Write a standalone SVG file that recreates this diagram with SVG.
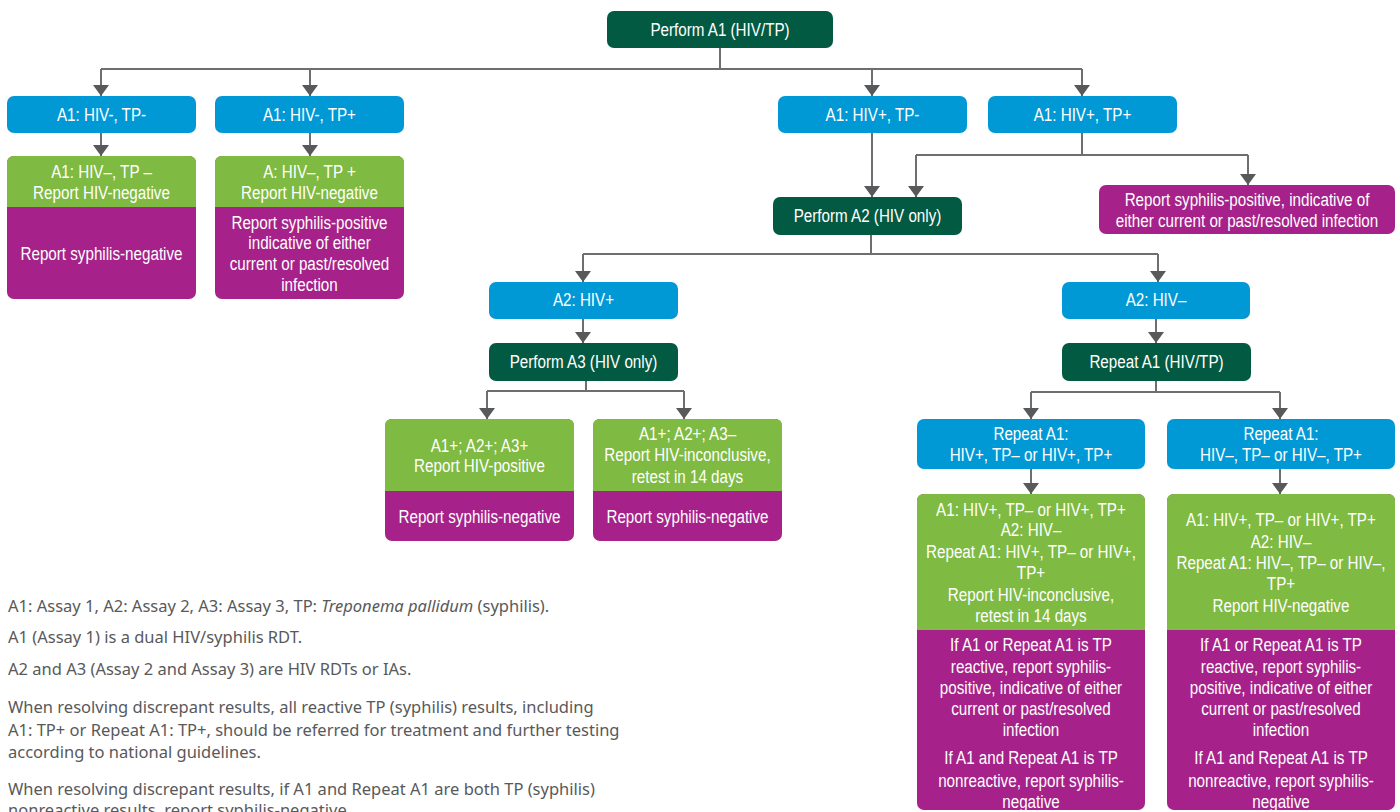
<svg xmlns="http://www.w3.org/2000/svg" width="1400" height="812" viewBox="0 0 1400 812">
<style>
.t{font-family:"Liberation Sans",Arial,sans-serif;font-size:19px;fill:#ffffff;text-anchor:middle;transform-box:fill-box;transform-origin:center;transform:scaleX(0.8)}
.dk{fill:#035a43}
.bl{fill:#0099d6}
.gr{fill:#7fba42}
.pu{fill:#a62189}
.c{fill:none;stroke:#6d6e70;stroke-width:2}
.f{font-family:"Noto Sans","Open Sans",sans-serif;font-size:16.5px;fill:#58595b}
</style>
<defs>
<marker id="ah" markerUnits="userSpaceOnUse" viewBox="0 -8 11 16" refX="11" refY="0" markerWidth="11" markerHeight="16" orient="auto">
<path d="M0,-8 L11,0 L0,8 Z" fill="#58595b"/>
</marker>
</defs>
<rect width="1400" height="812" fill="#ffffff"/>

<g id="connectors">
<path class="c" d="M720,48 V69"/>
<path class="c" d="M101,69 H1082"/>
<path class="c" d="M101,69 V96" marker-end="url(#ah)"/>
<path class="c" d="M310,69 V96" marker-end="url(#ah)"/>
<path class="c" d="M872,69 V96" marker-end="url(#ah)"/>
<path class="c" d="M1082,69 V96" marker-end="url(#ah)"/>
<path class="c" d="M101,133 V156" marker-end="url(#ah)"/>
<path class="c" d="M310,133 V156" marker-end="url(#ah)"/>
<path class="c" d="M872,133 V197" marker-end="url(#ah)"/>
<path class="c" d="M1082,133 V155"/>
<path class="c" d="M916,155 H1248"/>
<path class="c" d="M916,155 V197" marker-end="url(#ah)"/>
<path class="c" d="M1248,155 V185" marker-end="url(#ah)"/>
<path class="c" d="M871,235 V254"/>
<path class="c" d="M583,254 H1158"/>
<path class="c" d="M583,254 V282" marker-end="url(#ah)"/>
<path class="c" d="M1158,254 V282" marker-end="url(#ah)"/>
<path class="c" d="M583,319 V343" marker-end="url(#ah)"/>
<path class="c" d="M1156,319 V343" marker-end="url(#ah)"/>
<path class="c" d="M586,381 V391"/>
<path class="c" d="M487,391 H684"/>
<path class="c" d="M487,391 V419" marker-end="url(#ah)"/>
<path class="c" d="M684,391 V419" marker-end="url(#ah)"/>
<path class="c" d="M1156,381 V392"/>
<path class="c" d="M1031,392 H1280"/>
<path class="c" d="M1031,392 V419" marker-end="url(#ah)"/>
<path class="c" d="M1280,392 V419" marker-end="url(#ah)"/>
<path class="c" d="M1031,469 V494" marker-end="url(#ah)"/>
<path class="c" d="M1280,469 V494" marker-end="url(#ah)"/>
</g>

<g id="perform-a1">
<rect class="dk" x="607" y="11" width="226" height="37" rx="7"/>
<text class="t" x="720" y="36">Perform A1 (HIV/TP)</text>
</g>

<g id="a1-hivneg-tpneg">
<rect class="bl" x="7" y="96" width="189" height="37" rx="7"/>
<text class="t" x="101.5" y="121">A1: HIV-, TP-</text>
</g>
<g id="a1-hivneg-tppos">
<rect class="bl" x="215" y="96" width="189" height="37" rx="7"/>
<text class="t" x="309.5" y="121">A1: HIV-, TP+</text>
</g>
<g id="a1-hivpos-tpneg">
<rect class="bl" x="778" y="96" width="189" height="37" rx="7"/>
<text class="t" x="872.5" y="121">A1: HIV+, TP-</text>
</g>
<g id="a1-hivpos-tppos">
<rect class="bl" x="988" y="96" width="189" height="37" rx="7"/>
<text class="t" x="1082.5" y="121">A1: HIV+, TP+</text>
</g>

<g id="result-1">
<rect class="pu" x="7" y="156" width="189" height="143" rx="7"/>
<path class="gr" d="M7,207 V163 Q7,156 14,156 H189 Q196,156 196,163 V207 Z"/>
<text class="t" x="101.5" y="178">A1: HIV–, TP –</text>
<text class="t" x="101.5" y="199">Report HIV-negative</text>
<text class="t" x="101.5" y="260">Report syphilis-negative</text>
</g>
<g id="result-2">
<rect class="pu" x="215" y="156" width="189" height="143" rx="7"/>
<path class="gr" d="M215,207 V163 Q215,156 222,156 H397 Q404,156 404,163 V207 Z"/>
<text class="t" x="309.5" y="178">A: HIV–, TP +</text>
<text class="t" x="309.5" y="199">Report HIV-negative</text>
<text class="t" x="309.5" y="229">Report syphilis-positive</text>
<text class="t" x="309.5" y="249">indicative of either</text>
<text class="t" x="309.5" y="270">current or past/resolved</text>
<text class="t" x="309.5" y="291">infection</text>
</g>

<g id="perform-a2">
<rect class="dk" x="773" y="197" width="189" height="38" rx="7"/>
<text class="t" x="867.5" y="222">Perform A2 (HIV only)</text>
</g>

<g id="report-syphilis-positive">
<rect class="pu" x="1099" y="185" width="296" height="49" rx="7"/>
<text class="t" x="1247" y="206">Report syphilis-positive, indicative of</text>
<text class="t" x="1247" y="227">either current or past/resolved infection</text>
</g>

<g id="a2-hivpos">
<rect class="bl" x="489" y="282" width="189" height="37" rx="7"/>
<text class="t" x="583.5" y="306">A2: HIV+</text>
</g>
<g id="a2-hivneg">
<rect class="bl" x="1062" y="282" width="188" height="37" rx="7"/>
<text class="t" x="1156" y="306">A2: HIV–</text>
</g>

<g id="perform-a3">
<rect class="dk" x="489" y="343" width="189" height="38" rx="7"/>
<text class="t" x="583.5" y="368">Perform A3 (HIV only)</text>
</g>
<g id="repeat-a1">
<rect class="dk" x="1062" y="343" width="189" height="38" rx="7"/>
<text class="t" x="1156.5" y="368">Repeat A1 (HIV/TP)</text>
</g>

<g id="result-3">
<rect class="pu" x="385" y="419" width="189" height="122" rx="7"/>
<path class="gr" d="M385,491 V426 Q385,419 392,419 H567 Q574,419 574,426 V491 Z"/>
<text class="t" x="479.5" y="452">A1+; A2+; A3+</text>
<text class="t" x="479.5" y="472">Report HIV-positive</text>
<text class="t" x="479.5" y="523">Report syphilis-negative</text>
</g>
<g id="result-4">
<rect class="pu" x="593" y="419" width="189" height="122" rx="7"/>
<path class="gr" d="M593,491 V426 Q593,419 600,419 H775 Q782,419 782,426 V491 Z"/>
<text class="t" x="687.5" y="440">A1+; A2+; A3–</text>
<text class="t" x="687.5" y="461">Report HIV-inconclusive,</text>
<text class="t" x="687.5" y="483">retest in 14 days</text>
<text class="t" x="687.5" y="523">Report syphilis-negative</text>
</g>

<g id="repeat-a1-hivpos">
<rect class="bl" x="917" y="419" width="228" height="50" rx="7"/>
<text class="t" x="1031" y="440">Repeat A1:</text>
<text class="t" x="1031" y="461">HIV+, TP– or HIV+, TP+</text>
</g>
<g id="repeat-a1-hivneg">
<rect class="bl" x="1167" y="419" width="228" height="50" rx="7"/>
<text class="t" x="1281" y="440">Repeat A1:</text>
<text class="t" x="1281" y="461">HIV–, TP– or HIV–, TP+</text>
</g>

<g id="result-5">
<rect class="pu" x="917" y="494" width="228" height="316" rx="7"/>
<path class="gr" d="M917,630 V501 Q917,494 924,494 H1138 Q1145,494 1145,501 V630 Z"/>
<text class="t" x="1031" y="516">A1: HIV+, TP– or HIV+, TP+</text>
<text class="t" x="1031" y="536">A2: HIV–</text>
<text class="t" x="1031" y="558">Repeat A1: HIV+, TP– or HIV+,</text>
<text class="t" x="1031" y="579">TP+</text>
<text class="t" x="1031" y="601">Report HIV-inconclusive,</text>
<text class="t" x="1031" y="622">retest in 14 days</text>
<text class="t" x="1031" y="651">If A1 or Repeat A1 is TP</text>
<text class="t" x="1031" y="673">reactive, report syphilis-</text>
<text class="t" x="1031" y="694">positive, indicative of either</text>
<text class="t" x="1031" y="715">current or past/resolved</text>
<text class="t" x="1031" y="736">infection</text>
<text class="t" x="1031" y="764">If A1 and Repeat A1 is TP</text>
<text class="t" x="1031" y="787">nonreactive, report syphilis-</text>
<text class="t" x="1031" y="808">negative</text>
</g>
<g id="result-6">
<rect class="pu" x="1167" y="494" width="228" height="316" rx="7"/>
<path class="gr" d="M1167,630 V501 Q1167,494 1174,494 H1388 Q1395,494 1395,501 V630 Z"/>
<text class="t" x="1281" y="526">A1: HIV+, TP– or HIV+, TP+</text>
<text class="t" x="1281" y="548">A2: HIV–</text>
<text class="t" x="1281" y="569">Repeat A1: HIV–, TP– or HIV–,</text>
<text class="t" x="1281" y="590">TP+</text>
<text class="t" x="1281" y="612">Report HIV-negative</text>
<text class="t" x="1281" y="651">If A1 or Repeat A1 is TP</text>
<text class="t" x="1281" y="673">reactive, report syphilis-</text>
<text class="t" x="1281" y="694">positive, indicative of either</text>
<text class="t" x="1281" y="715">current or past/resolved</text>
<text class="t" x="1281" y="736">infection</text>
<text class="t" x="1281" y="764">If A1 and Repeat A1 is TP</text>
<text class="t" x="1281" y="787">nonreactive, report syphilis-</text>
<text class="t" x="1281" y="808">negative</text>
</g>

<g id="notes">
<text class="f" x="8" y="612">A1: Assay 1, A2: Assay 2, A3: Assay 3, TP: <tspan font-style="italic">Treponema pallidum</tspan> (syphilis).</text>
<text class="f" x="8" y="643">A1 (Assay 1) is a dual HIV/syphilis RDT.</text>
<text class="f" x="8" y="675">A2 and A3 (Assay 2 and Assay 3) are HIV RDTs or IAs.</text>
<text class="f" x="8" y="713">When resolving discrepant results, all reactive TP (syphilis) results, including</text>
<text class="f" x="8" y="736">A1: TP+ or Repeat A1: TP+, should be referred for treatment and further testing</text>
<text class="f" x="8" y="758">according to national guidelines.</text>
<text class="f" x="8" y="795">When resolving discrepant results, if A1 and Repeat A1 are both TP (syphilis)</text>
<text class="f" x="8" y="816">nonreactive results, report syphilis-negative.</text>
</g>
</svg>
